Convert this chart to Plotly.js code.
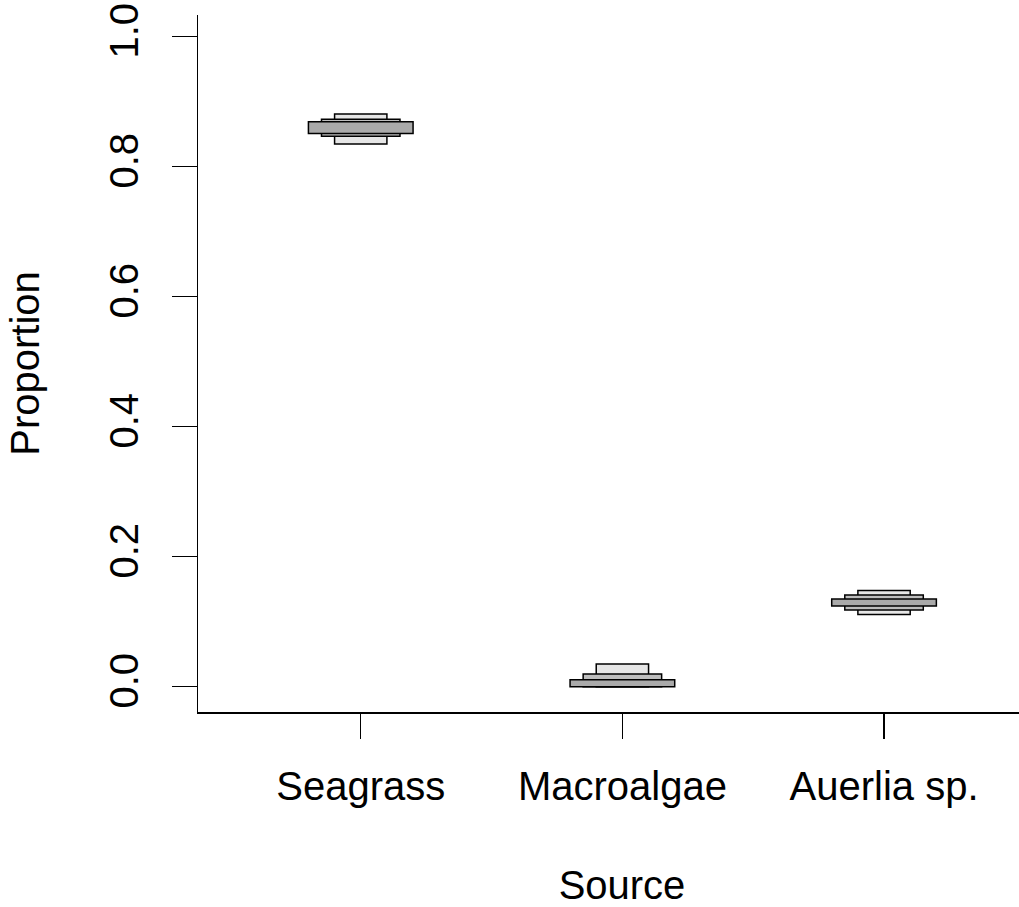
<!DOCTYPE html>
<html>
<head>
<meta charset="utf-8">
<script src="https://cdn.plot.ly/plotly-3.0.1.min.js"></script>
<style>html,body{margin:0;padding:0;background:#fff;overflow:hidden;}#chart{width:1046px;height:907px;}</style>
</head>
<body>
<div id="chart"></div>
<script>
// Categories and positions
const sources = ["Seagrass", "Macroalgae", "Auerlia sp."];
const sourcePos = [1, 2, 3];

// Credible intervals (lower, upper)
const ci95Low  = [0.835, 0.000, 0.111];
const ci95High = [0.881, 0.035, 0.148];
const ci75Low  = [0.847, 0.000, 0.118];
const ci75High = [0.873, 0.0195, 0.141];
const ci50Low  = [0.851, 0.000, 0.124];
const ci50High = [0.869, 0.0108, 0.135];

const yTicks = [0, 0.2, 0.4, 0.6, 0.8, 1.0];
const yTickText = ["0.0", "0.2", "0.4", "0.6", "0.8", "1.0"];

function band(lo, hi, w, color, name) {
  return {
    type: "bar",
    x: sourcePos,
    y: hi.map((h, i) => h - lo[i]),
    base: lo,
    width: sourcePos.map(() => w),
    marker: { color: color, line: { color: "#000", width: 1.5 } },
    name: name,
    hoverinfo: "skip",
    showlegend: false
  };
}

const data = [
  band(ci95Low, ci95High, 0.2, "#e6e6e6", "95%"),
  band(ci75Low, ci75High, 0.3, "#bebebe", "75%"),
  band(ci50Low, ci50High, 0.4, "#aaaaaa", "50%")
];

const font = { family: "Liberation Sans, Arial, sans-serif", size: 40, color: "#000" };

const layout = {
  width: 1046, height: 907,
  paper_bgcolor: "#fff", plot_bgcolor: "#fff",
  margin: { l: 198, r: 0, t: 15, b: 195, pad: 0 },
  barmode: "overlay",
  font: font,
  xaxis: {
    range: [0.378, 3.619],
    tickvals: sourcePos, ticktext: sources,
    ticks: "outside", ticklen: 25, tickwidth: 1.5, tickcolor: "#000",
    ticklabelstandoff: 13,
    showline: true, linecolor: "#000", linewidth: 1.5,
    showgrid: false, zeroline: false,
    tickfont: font,
    title: { text: "Source", font: font, standoff: 65 },
    automargin: false
  },
  yaxis: {
    range: [-0.0389, 1.0334],
    tickvals: yTicks, ticktext: yTickText,
    tickangle: -90,
    ticks: "outside", ticklen: 25, tickwidth: 1.5, tickcolor: "#000",
    ticklabelstandoff: 18,
    showline: true, linecolor: "#000", linewidth: 1.5,
    showgrid: false, zeroline: false,
    tickfont: font,
    title: { text: "Proportion", font: font, standoff: 49 },
    automargin: false
  }
};

Plotly.newPlot("chart", data, layout, { staticPlot: true, displayModeBar: false });
</script>
</body>
</html>
